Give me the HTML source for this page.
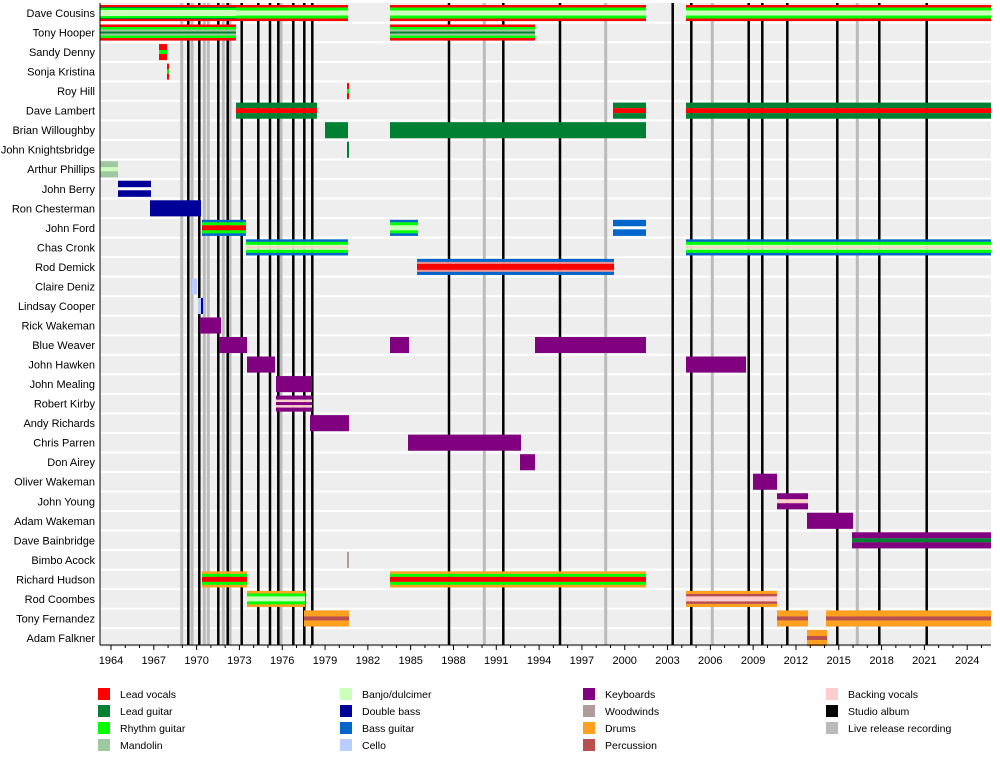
<!DOCTYPE html>
<html><head><meta charset="utf-8">
<style>
html,body{margin:0;padding:0;background:#fff;}
svg{display:block;font-family:"Liberation Sans",sans-serif;}
</style></head>
<body>
<svg id="c" width="1000" height="775" viewBox="0 0 1000 775" xmlns="http://www.w3.org/2000/svg">
<g id="bg"></g>
<g id="lines"></g>
<g id="bars"></g>
<line x1="100" y1="3" x2="100" y2="645" stroke="#000" stroke-width="1"/>
<line x1="100" y1="645" x2="991" y2="645" stroke="#000" stroke-width="1"/>
<g id="ticks"></g>
<g font-size="11" fill="#000" text-anchor="end">
<text x="95" y="17">Dave Cousins</text>
<text x="95" y="36.5">Tony Hooper</text>
<text x="95" y="56">Sandy Denny</text>
<text x="95" y="75.6">Sonja Kristina</text>
<text x="95" y="95.1">Roy Hill</text>
<text x="95" y="114.6">Dave Lambert</text>
<text x="95" y="134.2">Brian Willoughby</text>
<text x="95" y="153.7">John Knightsbridge</text>
<text x="95" y="173.2">Arthur Phillips</text>
<text x="95" y="192.8">John Berry</text>
<text x="95" y="212.3">Ron Chesterman</text>
<text x="95" y="231.8">John Ford</text>
<text x="95" y="251.4">Chas Cronk</text>
<text x="95" y="270.9">Rod Demick</text>
<text x="95" y="290.4">Claire Deniz</text>
<text x="95" y="310">Lindsay Cooper</text>
<text x="95" y="329.5">Rick Wakeman</text>
<text x="95" y="349">Blue Weaver</text>
<text x="95" y="368.5">John Hawken</text>
<text x="95" y="388.1">John Mealing</text>
<text x="95" y="407.6">Robert Kirby</text>
<text x="95" y="427.1">Andy Richards</text>
<text x="95" y="446.7">Chris Parren</text>
<text x="95" y="466.2">Don Airey</text>
<text x="95" y="485.7">Oliver Wakeman</text>
<text x="95" y="505.3">John Young</text>
<text x="95" y="524.8">Adam Wakeman</text>
<text x="95" y="544.3">Dave Bainbridge</text>
<text x="95" y="563.8">Bimbo Acock</text>
<text x="95" y="583.4">Richard Hudson</text>
<text x="95" y="602.9">Rod Coombes</text>
<text x="95" y="622.4">Tony Fernandez</text>
<text x="95" y="642">Adam Falkner</text>
</g>
<g font-size="11" fill="#000" text-anchor="middle">
<text x="111" y="664">1964</text>
<text x="153.8" y="664">1967</text>
<text x="196.6" y="664">1970</text>
<text x="239.4" y="664">1973</text>
<text x="282.2" y="664">1976</text>
<text x="325" y="664">1979</text>
<text x="367.9" y="664">1982</text>
<text x="410.7" y="664">1985</text>
<text x="453.5" y="664">1988</text>
<text x="496.3" y="664">1991</text>
<text x="539.1" y="664">1994</text>
<text x="581.9" y="664">1997</text>
<text x="624.7" y="664">2000</text>
<text x="667.5" y="664">2003</text>
<text x="710.3" y="664">2006</text>
<text x="753.1" y="664">2009</text>
<text x="795.9" y="664">2012</text>
<text x="838.7" y="664">2015</text>
<text x="881.6" y="664">2018</text>
<text x="924.4" y="664">2021</text>
<text x="967.2" y="664">2024</text>
</g>
<g font-size="10.5" fill="#000">
<rect x="98" y="688" width="12" height="12" fill="#ff0000"/><text x="120" y="698">Lead vocals</text>
<rect x="98" y="705" width="12" height="12" fill="#008033"/><text x="120" y="715">Lead guitar</text>
<rect x="98" y="722" width="12" height="12" fill="#00ff00"/><text x="120" y="732">Rhythm guitar</text>
<rect x="98" y="739" width="12" height="12" fill="#a0c8a0"/><text x="120" y="749">Mandolin</text>
<rect x="340" y="688" width="12" height="12" fill="#ccffbb"/><text x="362" y="698">Banjo/dulcimer</text>
<rect x="340" y="705" width="12" height="12" fill="#000099"/><text x="362" y="715">Double bass</text>
<rect x="340" y="722" width="12" height="12" fill="#0066cc"/><text x="362" y="732">Bass guitar</text>
<rect x="340" y="739" width="12" height="12" fill="#bbccff"/><text x="362" y="749">Cello</text>
<rect x="583" y="688" width="12" height="12" fill="#800080"/><text x="605" y="698">Keyboards</text>
<rect x="583" y="705" width="12" height="12" fill="#b09a9a"/><text x="605" y="715">Woodwinds</text>
<rect x="583" y="722" width="12" height="12" fill="#ffa020"/><text x="605" y="732">Drums</text>
<rect x="583" y="739" width="12" height="12" fill="#b85050"/><text x="605" y="749">Percussion</text>
<rect x="826" y="688" width="12" height="12" fill="#ffcccc"/><text x="848" y="698">Backing vocals</text>
<rect x="826" y="705" width="12" height="12" fill="#000000"/><text x="848" y="715">Studio album</text>
<rect x="826" y="722" width="12" height="12" fill="#bbbbbb"/><text x="848" y="732">Live release recording</text>
</g>
</svg>
<script>
(function(){
var NS="http://www.w3.org/2000/svg";
function el(g,t,a){var e=document.createElementNS(NS,t);for(var k in a)e.setAttribute(k,a[k]);document.getElementById(g).appendChild(e);}
var P=19.53;
function cy(r){return 13+r*P;}
// background bands
for(var r=0;r<33;r++){
  var t=cy(r)-P/2+1, b=cy(r)+P/2-1;
  if(r==0)t=3;
  el("bg","rect",{x:100,y:t,width:891,height:b-t,fill:"#eeeeee"});
}
// lines
var blk=[188.3,199.3,218.3,227.7,241.7,258.3,270,278.3,293.3,304.3,312.3,449,503.3,560,672.7,691.3,748.7,762.3,787.3,837.3,879.3,926.7];
var gry=[181.7,192,204.3,208.3,223.3,230,281,484.3,605.7,712.3,857.3];
gry.forEach(function(x){el("lines","rect",{x:x-1.5,y:3,width:3,height:642,fill:"#bbbbbb"});});
blk.forEach(function(x){el("lines","rect",{x:x-1.25,y:3,width:2.5,height:642,fill:"#000"});});
// ticks
for(var y=1964;y<=2025;y++){
  var x=111+(y-1964)*14.27;
  var big=((y-1964)%3==0);
  el("ticks","line",{x1:x,y1:645,x2:x,y2:big?650:648,stroke:"#000","stroke-width":1});
}
var R="#ff0000",LG="#008033",RG="#00ff00",MA="#a0c8a0",BJ="#ccffbb",DB="#000099",BG="#0066cc",CE="#bbccff",KB="#800080",WW="#b09a9a",DR="#ffa020",PE="#b85050",BV="#ffcccc",W="#ffffff";
function bar(r,x1,x2,s){
  var tot=0;s.forEach(function(p){tot+=p[1];});
  var y=cy(r)-8;
  s.forEach(function(p){var h=p[1]*16/tot;el("bars","rect",{x:x1,y:y,width:x2-x1,height:h+0.05,fill:p[0]});y+=h;});
}
var cous1=[[R,2],[LG,1],[RG,2],[BJ,6],[RG,2],[LG,1],[R,2]];
var cous2=[[R,2.5],[RG,3],[BJ,5],[RG,3],[R,2.5]];
bar(0,100,236,cous1);bar(0,236,348,cous2);bar(0,390,646,cous2);bar(0,686,991,cous2);
var hoop=[[R,2.5],[RG,2.5],[MA,2],[LG,2],[MA,2],[RG,2.5],[R,2.5]];
bar(1,100,236,hoop);bar(1,390,535,hoop);
bar(2,159,167,[[R,6],[RG,4],[R,6]]);
bar(3,167,169,[[R,6],[RG,4],[R,6]]);
bar(4,347,349,[[R,6],[RG,4],[R,6]]);
var lam=[[LG,5.5],[R,5],[LG,5.5]];
bar(5,236,317,lam);bar(5,613,646,lam);bar(5,686,991,lam);
bar(6,325,348,[[LG,1]]);bar(6,390,646,[[LG,1]]);
bar(7,347,349,[[LG,1]]);
bar(8,100,118,[[MA,6],[BJ,4],[MA,6]]);
bar(9,118,151,[[DB,6.5],[W,3],[DB,6.5]]);
bar(10,150,201,[[DB,1]]);
var ford=[[BG,2.5],[RG,3],[R,5],[RG,3],[BG,2.5]];
bar(11,202,246,ford);
bar(11,390,418,[[BG,2.5],[RG,3],[BJ,5],[RG,3],[BG,2.5]]);
bar(11,613,646,[[BG,6.5],[W,3],[BG,6.5]]);
var cr=[[BG,2.5],[RG,3],[BJ,1.5],[BV,2],[BJ,1.5],[RG,3],[BG,2.5]];
bar(12,246,348,cr);bar(12,686,991,cr);
bar(13,417,614,[[BG,3],["#e89090",2],[R,6],["#e89090",2],[BG,3]]);
bar(14,192,197,[[CE,1]]);
bar(15,198,201,[[CE,1]]);bar(15,201,203,[[DB,1]]);
bar(16,200,221,[[KB,1]]);
bar(17,219,247,[[KB,1]]);bar(17,390,409,[[KB,1]]);bar(17,535,646,[[KB,1]]);
bar(18,247,275,[[KB,1]]);bar(18,686,746,[[KB,1]]);
bar(19,276,312,[[KB,1]]);
bar(20,276,312,[[KB,4],[BV,2.5],[KB,3],[BV,2.5],[KB,4]]);
bar(21,310,349,[[KB,1]]);
bar(22,408,521,[[KB,1]]);
bar(23,520,535,[[KB,1]]);
bar(24,753,777,[[KB,1]]);
bar(25,777,808,[[KB,6],[BV,4],[KB,6]]);
bar(26,807,853,[[KB,1]]);
bar(27,852,991,[[KB,6],[LG,4],[KB,6]]);
bar(28,347,349,[[WW,1]]);
var hud=[[DR,2.5],[RG,3],[R,5],[RG,3],[DR,2.5]];
bar(29,202,247,hud);bar(29,390,646,hud);
bar(30,247,305,[[DR,2.5],[RG,3],[BJ,5],[RG,3],[DR,2.5]]);
bar(30,686,777,[[DR,3],[PE,2.5],[BV,5],[PE,2.5],[DR,3]]);
var fer=[[DR,6],[PE,4],[DR,6]];
bar(31,304,349,fer);bar(31,777,808,fer);bar(31,826,991,fer);
bar(32,807,827,fer);
})();
</script>
</body></html>
